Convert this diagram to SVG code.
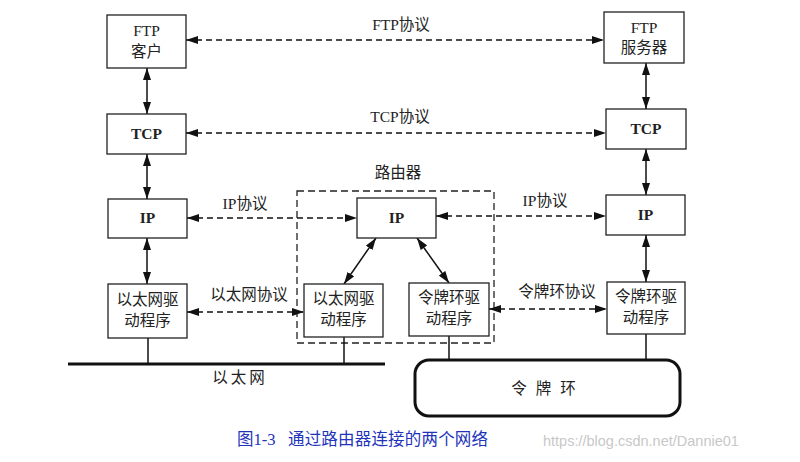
<svg xmlns="http://www.w3.org/2000/svg" width="800" height="462" viewBox="0 0 800 462">
<defs>
<marker id="ah" viewBox="0 0 12 8" refX="12" refY="4" markerWidth="12" markerHeight="8" markerUnits="userSpaceOnUse" orient="auto-start-reverse">
<path d="M0,0 L12,4 L0,8 Z" fill="#111"/>
</marker>
<style>
.box{fill:#fff;stroke:#222;stroke-width:1.3}
.t{font-family:"Liberation Serif","Noto Sans CJK SC",serif;font-size:15.5px;fill:#222;text-anchor:middle}
.b{font-weight:bold}
.solid{stroke:#111;stroke-width:1.5;fill:none}
.dash{stroke:#111;stroke-width:1.3;stroke-dasharray:6 4;fill:none}
.cap{font-family:"Liberation Serif","Noto Sans CJK SC",serif;font-size:16.5px;fill:#2233bb}
</style>
</defs>
<rect width="800" height="462" fill="#fff"/>

<g id="router">
<rect x="297" y="191" width="197" height="152" fill="none" stroke="#222" stroke-width="1.3" stroke-dasharray="7 4"/>
<text class="t" x="398" y="178">路由器</text>
</g>

<g id="ethernet">
<line x1="68" y1="364" x2="385" y2="364" stroke="#111" stroke-width="3"/>
<text class="t" x="240" y="383" letter-spacing="3">以太网</text>
</g>

<g id="tokenring">
<rect x="415" y="360" width="265" height="56" rx="14" fill="#fff" stroke="#111" stroke-width="3"/>
<text class="t" x="548" y="394" letter-spacing="9">令牌环</text>
</g>

<g id="connectors">
<line class="solid" x1="148" y1="338" x2="148" y2="364"/>
<line class="solid" x1="344" y1="337" x2="344" y2="364"/>
<line class="solid" x1="449" y1="336" x2="449" y2="360"/>
<line class="solid" x1="646" y1="334" x2="646" y2="360"/>

<line class="solid" x1="147" y1="68" x2="147" y2="114" marker-start="url(#ah)" marker-end="url(#ah)"/>
<line class="solid" x1="147" y1="154" x2="147" y2="199" marker-start="url(#ah)" marker-end="url(#ah)"/>
<line class="solid" x1="147" y1="238" x2="147" y2="284" marker-start="url(#ah)" marker-end="url(#ah)"/>
<line class="solid" x1="646" y1="63" x2="646" y2="109" marker-start="url(#ah)" marker-end="url(#ah)"/>
<line class="solid" x1="646" y1="149" x2="646" y2="195" marker-start="url(#ah)" marker-end="url(#ah)"/>
<line class="solid" x1="646" y1="235" x2="646" y2="282" marker-start="url(#ah)" marker-end="url(#ah)"/>
<line class="solid" x1="376" y1="238" x2="344" y2="284" marker-start="url(#ah)" marker-end="url(#ah)"/>
<line class="solid" x1="417" y1="238" x2="449" y2="283" marker-start="url(#ah)" marker-end="url(#ah)"/>

<line class="dash" x1="186" y1="40" x2="604" y2="40" marker-start="url(#ah)" marker-end="url(#ah)"/>
<text class="t" x="401" y="30">FTP协议</text>
<line class="dash" x1="186" y1="133" x2="606" y2="133" marker-start="url(#ah)" marker-end="url(#ah)"/>
<text class="t" x="400" y="122">TCP协议</text>
<line class="dash" x1="187" y1="218" x2="357" y2="218" marker-start="url(#ah)" marker-end="url(#ah)"/>
<text class="t" x="245" y="209">IP协议</text>
<line class="dash" x1="436" y1="216" x2="606" y2="216" marker-start="url(#ah)" marker-end="url(#ah)"/>
<text class="t" x="545" y="206">IP协议</text>
<line class="dash" x1="187" y1="312" x2="304" y2="312" marker-start="url(#ah)" marker-end="url(#ah)"/>
<text class="t" x="249" y="300">以太网协议</text>
<line class="dash" x1="489" y1="309" x2="607" y2="309" marker-start="url(#ah)" marker-end="url(#ah)"/>
<text class="t" x="557" y="297">令牌环协议</text>
</g>

<g id="ftp-client">
<rect class="box" x="107" y="15" width="79" height="53"/>
<text class="t" x="146.5" y="36">FTP</text>
<text class="t" x="146.5" y="57">客户</text>
</g>
<g id="tcp-left">
<rect class="box" x="107" y="114" width="79" height="40"/>
<text class="t b" x="146.5" y="139">TCP</text>
</g>
<g id="ip-left">
<rect class="box" x="108" y="199" width="79" height="39"/>
<text class="t b" x="147.5" y="223">IP</text>
</g>
<g id="eth-driver-left">
<rect class="box" x="108" y="284" width="79" height="54"/>
<text class="t" x="147.5" y="305">以太网驱</text>
<text class="t" x="147.5" y="326">动程序</text>
</g>

<g id="ip-router">
<rect class="box" x="357" y="198" width="79" height="40"/>
<text class="t b" x="396.5" y="223">IP</text>
</g>
<g id="eth-driver-router">
<rect class="box" x="304" y="284" width="79" height="53"/>
<text class="t" x="343.5" y="304">以太网驱</text>
<text class="t" x="343.5" y="325">动程序</text>
</g>
<g id="tr-driver-router">
<rect class="box" x="409" y="283" width="80" height="53"/>
<text class="t" x="449" y="303">令牌环驱</text>
<text class="t" x="449" y="324">动程序</text>
</g>

<g id="ftp-server">
<rect class="box" x="604" y="12" width="80" height="51"/>
<text class="t" x="644" y="33">FTP</text>
<text class="t" x="644" y="53">服务器</text>
</g>
<g id="tcp-right">
<rect class="box" x="606" y="109" width="80" height="40"/>
<text class="t b" x="646" y="134">TCP</text>
</g>
<g id="ip-right">
<rect class="box" x="606" y="195" width="79" height="40"/>
<text class="t b" x="645.5" y="220">IP</text>
</g>
<g id="tr-driver-right">
<rect class="box" x="607" y="282" width="78" height="52"/>
<text class="t" x="646" y="302">令牌环驱</text>
<text class="t" x="646" y="323">动程序</text>
</g>

<text class="cap" x="237" y="445">图1-3</text>
<text class="cap" x="288" y="445" textLength="200" lengthAdjust="spacing">通过路由器连接的两个网络</text>
<text x="543" y="446" font-family="Liberation Sans,Arial,sans-serif" font-size="14.5" fill="#c8c8c8">https://blog.csdn.net/Dannie01</text>
</svg>
